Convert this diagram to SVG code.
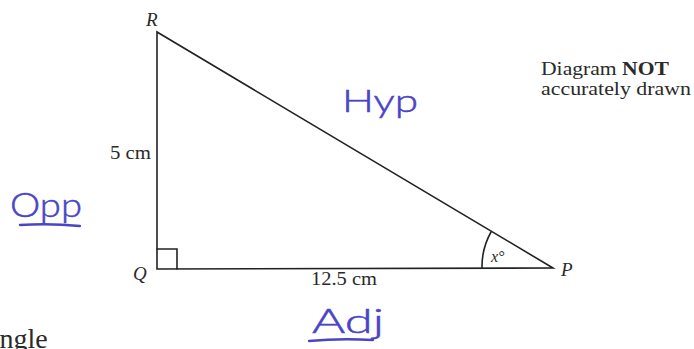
<svg xmlns="http://www.w3.org/2000/svg" width="694" height="349" viewBox="0 0 694 349">
<style>
.lbl{font-family:"Liberation Serif","Times New Roman",serif;fill:#2a2a2a;}
.it{font-style:italic;}
.hand{font-family:"Lato","Open Sans",sans-serif;font-weight:300;fill:#4a44c6;stroke:#4a44c6;stroke-width:0.5;}
.edge{stroke:#222;stroke-width:1.6;fill:none;stroke-linecap:round;}
.ul{stroke:#4a44c6;stroke-width:2.4;fill:none;stroke-linecap:round;}
</style>
<rect width="694" height="349" fill="#fff"/>
<g id="connectors">
  <path class="edge" d="M157,32 L157,269 L553,268 Z"/>
  <path class="edge" d="M157,249 L177,249 L177,269" stroke-width="1.2"/>
  <path class="edge" d="M482,268 A71,71 0 0 1 491,232" stroke-width="1.8"/>
</g>
<g id="node-R"><text class="lbl it" x="146" y="26" font-size="19">R</text></g>
<g id="node-Q"><text class="lbl it" x="133" y="280" font-size="19">Q</text></g>
<g id="node-P"><text class="lbl it" x="561" y="276" font-size="19">P</text></g>
<g id="label-5cm"><text class="lbl" x="110" y="159" font-size="19" textLength="41" lengthAdjust="spacingAndGlyphs">5 cm</text></g>
<g id="label-12cm"><text class="lbl" x="311" y="285" font-size="19" textLength="66" lengthAdjust="spacingAndGlyphs">12.5 cm</text></g>
<g id="label-x"><text class="lbl it" x="491" y="262" font-size="16">x°</text></g>
<g id="note">
  <text class="lbl" x="541" y="75" font-size="19" textLength="128" lengthAdjust="spacingAndGlyphs">Diagram <tspan font-weight="bold">NOT</tspan></text>
  <text class="lbl" x="541" y="95" font-size="19" textLength="150" lengthAdjust="spacingAndGlyphs">accurately drawn</text>
</g>
<g id="hand-hyp"><text class="hand" x="342" y="112" font-size="32" textLength="76" lengthAdjust="spacingAndGlyphs">Hyp</text></g>
<g id="hand-opp">
  <text class="hand" x="10" y="217" font-size="34" textLength="72" lengthAdjust="spacingAndGlyphs">Opp</text>
  <path class="ul" d="M20,225 Q50,223 80,226"/>
</g>
<g id="hand-adj">
  <text class="hand" x="312" y="333" font-size="34" textLength="72" lengthAdjust="spacingAndGlyphs">Adj</text>
  <path class="ul" d="M309,341 Q340,338 373,340"/>
</g>
<g id="angle-text"><text class="lbl" x="-13" y="348" font-size="28">angle</text></g>
</svg>
